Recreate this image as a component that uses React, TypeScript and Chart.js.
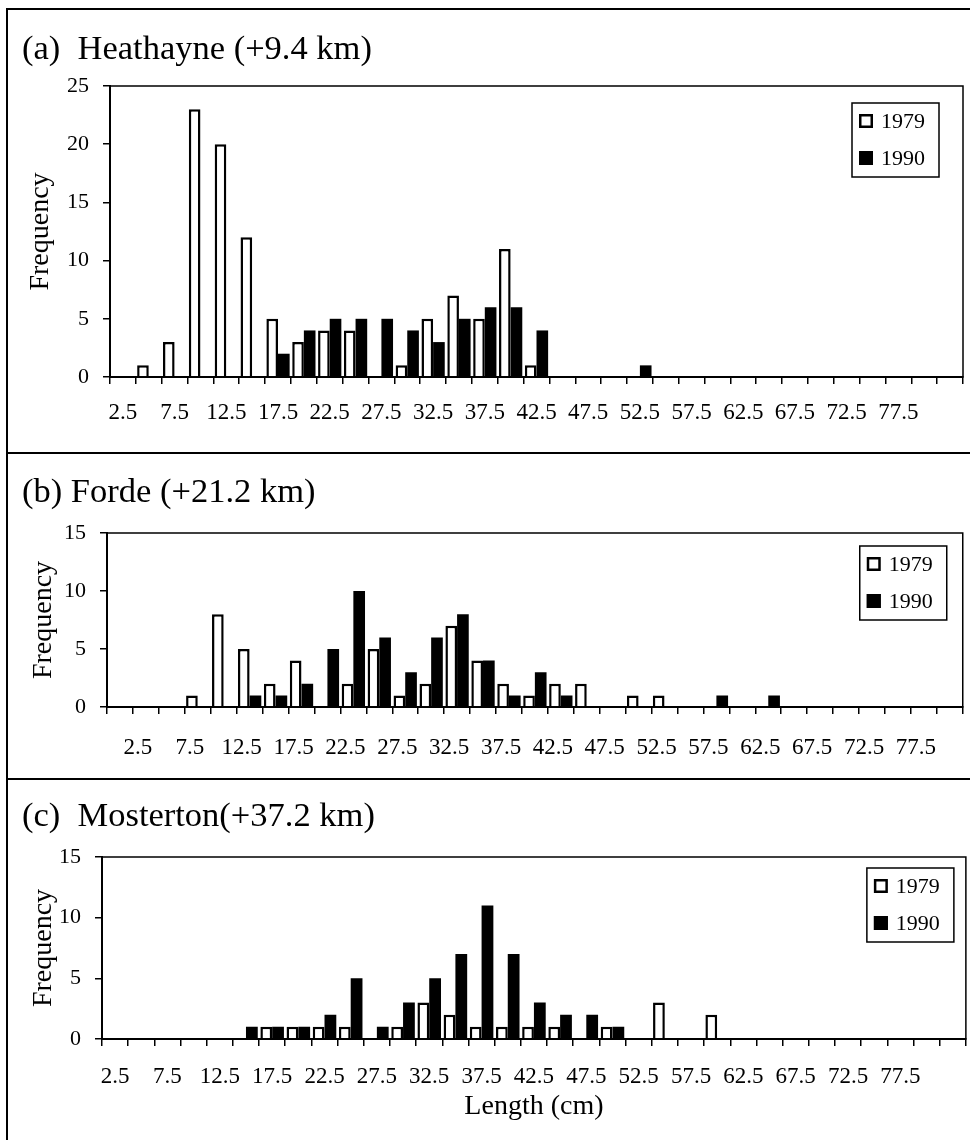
import React, { useEffect, useRef } from 'react';
import { Chart, registerables } from 'chart.js';

Chart.register(...registerables);

// ---------- data ----------
const lengthClasses = [
  2.5, 5, 7.5, 10, 12.5, 15, 17.5, 20, 22.5, 25, 27.5, 30, 32.5, 35, 37.5, 40,
  42.5, 45, 47.5, 50, 52.5, 55, 57.5, 60, 62.5, 65, 67.5, 70, 72.5, 75, 77.5, 80, 82.5,
];
const shownTickLabels = [
  '2.5', '7.5', '12.5', '17.5', '22.5', '27.5', '32.5', '37.5',
  '42.5', '47.5', '52.5', '57.5', '62.5', '67.5', '72.5', '77.5',
];
const seriesNames = ['1979', '1990'];

const heathayne1979 = [0, 1, 3, 23, 20, 12, 5, 3, 4, 4, 0, 1, 5, 7, 5, 11, 1, 0, 0, 0, 0, 0, 0, 0, 0, 0, 0, 0, 0, 0, 0, 0, 0];
const heathayne1990 = [0, 0, 0, 0, 0, 0, 2, 4, 5, 5, 5, 4, 3, 5, 6, 6, 4, 0, 0, 0, 1, 0, 0, 0, 0, 0, 0, 0, 0, 0, 0, 0, 0];

const forde1979 = [0, 0, 0, 1, 8, 5, 2, 4, 0, 2, 5, 1, 2, 7, 4, 2, 1, 2, 2, 0, 1, 1, 0, 0, 0, 0, 0, 0, 0, 0, 0, 0, 0];
const forde1990 = [0, 0, 0, 0, 0, 1, 1, 2, 5, 10, 6, 3, 6, 8, 4, 1, 3, 1, 0, 0, 0, 0, 0, 1, 0, 1, 0, 0, 0, 0, 0, 0, 0];

const mosterton1979 = [0, 0, 0, 0, 0, 0, 1, 1, 1, 1, 0, 1, 3, 2, 1, 1, 1, 1, 0, 1, 0, 3, 0, 2, 0, 0, 0, 0, 0, 0, 0, 0, 0];
const mosterton1990 = [0, 0, 0, 0, 0, 1, 1, 1, 2, 5, 1, 3, 5, 7, 11, 7, 3, 2, 2, 1, 0, 0, 0, 0, 0, 0, 0, 0, 0, 0, 0, 0, 0];

const panelTitles = ['(a)  Heathayne (+9.4 km)', '(b) Forde (+21.2 km)', '(c)  Mosterton(+37.2 km)'];
const yMaxima = [25, 15, 15];
const yAxisTitle = 'Frequency';
const xAxisTitle = 'Length (cm)';

// ---------- styling / layout ----------
const FONT = "'Liberation Serif', 'Times New Roman', Times, serif";

type PanelLayout = {
  top: number; height: number;
  yWidth: number; padRight: number; xHeight: number;
  titlePadTop: number; titlePadBottom: number;
  yTitlePad: number; xLabelPad: number; labelOffset: number;
  legendRight: number; legendTop: number;
  showXTitle: boolean;
};

const layouts: PanelLayout[] = [
  { top: 10, height: 442, yWidth: 88, padRight: 7, xHeight: 75, titlePadTop: 19.6, titlePadBottom: 15, yTitlePad: 2.2, xLabelPad: 15.2, labelOffset: 0, legendRight: 24, legendTop: 17, showXTitle: false },
  { top: 454, height: 324, yWidth: 85, padRight: 1, xHeight: 71, titlePadTop: 18.6, titlePadBottom: 19, yTitlePad: 5.2, xLabelPad: 20.2, labelOffset: 18, legendRight: 16, legendTop: 13, showXTitle: false },
  { top: 780, height: 360, yWidth: 80, padRight: 1, xHeight: 101, titlePadTop: 16.6, titlePadBottom: 19, yTitlePad: 5.2, xLabelPad: 17.2, labelOffset: 0, legendRight: 12, legendTop: 11, showXTitle: true },
];

const seriesData = [
  [heathayne1979, heathayne1990],
  [forde1979, forde1990],
  [mosterton1979, mosterton1990],
];

const framePlugin = {
  id: 'plotFrame',
  afterDraw(chart: any) {
    const { ctx, chartArea } = chart;
    ctx.save();
    ctx.strokeStyle = '#000';
    ctx.lineWidth = 1.5;
    ctx.strokeRect(chartArea.left, chartArea.top, chartArea.right - chartArea.left, chartArea.bottom - chartArea.top);
    ctx.restore();
  },
};

const boxLegendPlugin = {
  id: 'boxLegend',
  afterDraw(chart: any, _args: any, opts: any) {
    const { ctx, chartArea } = chart;
    const w = 87;
    const h = 74;
    const x = chartArea.right - opts.right - w;
    const y = chartArea.top + opts.top;
    ctx.save();
    ctx.fillStyle = '#fff';
    ctx.fillRect(x, y, w, h);
    ctx.strokeStyle = '#000';
    ctx.lineWidth = 1.5;
    ctx.strokeRect(x, y, w, h);
    chart.data.datasets.forEach((ds: any, i: number) => {
      const cy = y + 18 + i * 37;
      ctx.fillStyle = ds.backgroundColor;
      ctx.fillRect(x + 7, cy - 7, 14, 14);
      ctx.lineWidth = 2.5;
      ctx.strokeStyle = '#000';
      ctx.strokeRect(x + 8.25, cy - 5.75, 11.5, 11.5);
      ctx.fillStyle = '#000';
      ctx.font = `22px ${FONT}`;
      ctx.textBaseline = 'middle';
      ctx.textAlign = 'left';
      ctx.fillText(ds.label, x + 29, cy + 1);
    });
    ctx.restore();
  },
};

function Panel({ index }: { index: number }) {
  const ref = useRef<HTMLCanvasElement | null>(null);
  const L = layouts[index];

  useEffect(() => {
    if (!ref.current) return;
    const [d1979, d1990] = seriesData[index];
    const chart = new Chart(ref.current, {
      type: 'bar',
      data: {
        labels: lengthClasses.map((v) => String(v)),
        datasets: [
          {
            label: seriesNames[0],
            data: d1979,
            backgroundColor: '#ffffff',
            borderColor: '#000000',
            borderWidth: 2.5,
            categoryPercentage: 0.9,
            barPercentage: 1.0,
          },
          {
            label: seriesNames[1],
            data: d1990,
            backgroundColor: '#000000',
            borderColor: '#000000',
            borderWidth: 0,
            categoryPercentage: 0.9,
            barPercentage: 1.0,
          },
        ],
      },
      options: {
        responsive: false,
        animation: false,
        devicePixelRatio: 1,
        events: [],
        layout: { padding: { left: 14, right: L.padRight, top: 0, bottom: 0 } },
        plugins: {
          legend: { display: false },
          tooltip: { enabled: false },
          title: {
            display: true,
            text: panelTitles[index],
            align: 'start',
            color: '#000',
            font: { family: FONT, size: 34.5, weight: 'normal' },
            padding: { top: L.titlePadTop, bottom: L.titlePadBottom },
          },
          boxLegend: { right: L.legendRight, top: L.legendTop },
        } as any,
        scales: {
          x: {
            type: 'category',
            offset: true,
            grid: {
              display: true,
              offset: true,
              drawOnChartArea: false,
              drawTicks: true,
              tickLength: 7,
              color: '#000',
              lineWidth: 1.5,
            },
            border: { display: true, color: '#000', width: 2 },
            ticks: {
              autoSkip: false,
              maxRotation: 0,
              minRotation: 0,
              color: '#000',
              padding: L.xLabelPad,
              labelOffset: L.labelOffset,
              font: { family: FONT, size: 23 },
              callback: function (this: any, value: any) {
                const lab = this.getLabelForValue(value);
                return shownTickLabels.includes(lab) ? lab : '';
              },
            },
            title: {
              display: L.showXTitle,
              text: xAxisTitle,
              color: '#000',
              font: { family: FONT, size: 28 },
              padding: { top: 0, bottom: 16.2 },
            },
            afterFit: (scale: any) => {
              scale.height = L.xHeight;
            },
          },
          y: {
            min: 0,
            max: yMaxima[index],
            grid: {
              display: true,
              drawOnChartArea: false,
              drawTicks: true,
              tickLength: 7,
              color: '#000',
              lineWidth: 1.5,
            },
            border: { display: true, color: '#000', width: 2 },
            ticks: {
              stepSize: 5,
              color: '#000',
              padding: 14,
              font: { family: FONT, size: 22 },
            },
            title: {
              display: true,
              text: yAxisTitle,
              color: '#000',
              font: { family: FONT, size: 28 },
              padding: { top: L.yTitlePad, bottom: 0 },
            },
            afterFit: (scale: any) => {
              scale.width = L.yWidth;
            },
          },
        },
      } as any,
      plugins: [framePlugin, boxLegendPlugin],
    });
    return () => chart.destroy();
  }, [index]);

  return (
    <canvas
      ref={ref}
      width={962}
      height={L.height}
      style={{ position: 'absolute', left: 8, top: L.top, width: 962, height: L.height, display: 'block' }}
    />
  );
}

export default function App() {
  const line = (style: React.CSSProperties) => (
    <div style={{ position: 'absolute', background: '#000', ...style }} />
  );
  return (
    <div style={{ position: 'absolute', left: 0, top: 0, width: 970, height: 1140, background: '#fff', overflow: 'hidden' }}>
      {line({ left: 6, top: 8, width: 2, height: 1132 })}
      {line({ left: 6, top: 8, width: 964, height: 2 })}
      {line({ left: 6, top: 452, width: 964, height: 2 })}
      {line({ left: 6, top: 778, width: 964, height: 2 })}
      <Panel index={0} />
      <Panel index={1} />
      <Panel index={2} />
    </div>
  );
}
